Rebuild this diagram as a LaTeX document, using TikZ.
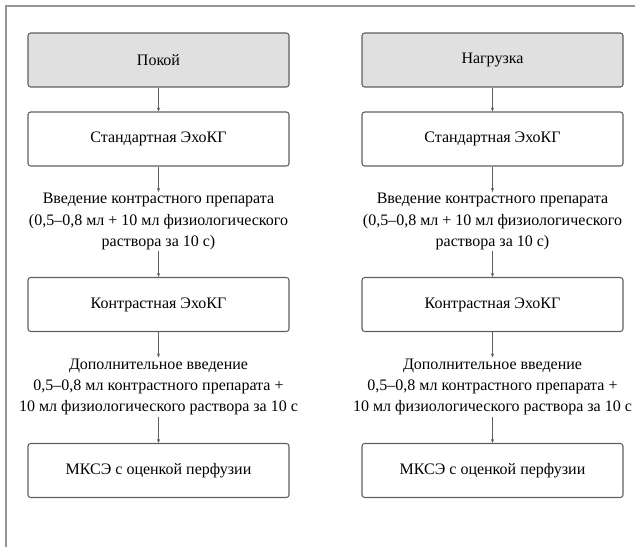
\documentclass[tikz,border=0pt]{standalone}
\usepackage{fontspec}
\setmainfont{Liberation Serif}
\usetikzlibrary{arrows.meta}
\definecolor{framegray}{RGB}{150,150,150}
\definecolor{boxline}{RGB}{95,95,95}
\definecolor{headfill}{RGB}{224,224,224}
\tikzset{
	stepbox/.style={draw=boxline, line width=0.8pt, rounded corners=2pt, minimum width=195.75pt, minimum height=40.5pt, inner sep=0pt, font=\fontsize{12}{14}\selectfont},
	headbox/.style={stepbox, fill=headfill},
	injtext/.style={align=center, inner sep=1pt, font=\fontsize{12}{15.8}\selectfont},
	flow/.style={draw=boxline, line width=0.5pt, -{Stealth[length=3pt,width=2.5pt]}}
}
\begin{document}
\begin{tikzpicture}[x=0.75pt,y=0.75pt,yscale=-1,xscale=1]
	\useasboundingbox (0,0) rectangle (635,547);
	
	%Frame
	\draw [color=framegray, line width=1.5] (6,547) -- (6,6) -- (635,6) ;
	
	%Left column: rest
	\node [headbox] (restHead) at (158.5,60) {Покой};
	\node [stepbox] (restStd) at (158.5,139) {Стандартная ЭхоКГ};
	% Text Node
	\node [injtext] (restInj) at (158.5,221.5) {Введение контрастного препарата\\(0,5–0,8 мл + 10 мл физиологического\\раствора за 10 с)};
	\node [stepbox] (restContr) at (158.5,304.5) {Контрастная ЭхоКГ};
	% Text Node
	\node [injtext] (restAdd) at (158.5,387) {Дополнительное введение\\0,5–0,8 мл контрастного препарата +\\10 мл физиологического раствора за 10 с};
	\node [stepbox] (restMkse) at (158.5,470.5) {МКСЭ с оценкой перфузии};
	
	%Right column: stress
	\node [headbox] (loadHead) at (492.5,60) {Нагрузка};
	\node [stepbox] (loadStd) at (492.5,139) {Стандартная ЭхоКГ};
	% Text Node
	\node [injtext] (loadInj) at (492.5,221.5) {Введение контрастного препарата\\(0,5–0,8 мл + 10 мл физиологического\\раствора за 10 с)};
	\node [stepbox] (loadContr) at (492.5,304.5) {Контрастная ЭхоКГ};
	% Text Node
	\node [injtext] (loadAdd) at (492.5,387) {Дополнительное введение\\0,5–0,8 мл контрастного препарата +\\10 мл физиологического раствора за 10 с};
	\node [stepbox] (loadMkse) at (492.5,470.5) {МКСЭ с оценкой перфузии};
	
	%Connectors
	\foreach \col in {rest,load}{
		\draw [flow] (\col Head) -- (\col Std) ;
		\draw [flow] (\col Std) -- (\col Inj) ;
		\draw [flow] (\col Inj) -- (\col Contr) ;
		\draw [flow] (\col Contr) -- (\col Add) ;
		\draw [flow] (\col Add) -- (\col Mkse) ;
	}
	
\end{tikzpicture}
\end{document}
